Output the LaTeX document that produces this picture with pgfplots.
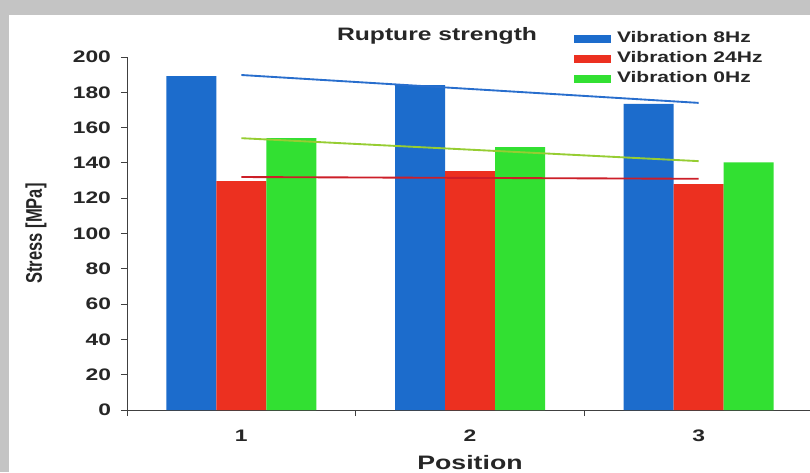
\documentclass[border=0pt]{standalone}
\usepackage{fontspec}
\setmainfont{Liberation Sans}[FakeStretch=1.37]
\newfontfamily\ylfont{Liberation Sans}
\usepackage{pgfplots}
\pgfplotsset{compat=1.18}
\definecolor{cblue}{RGB}{28,108,204}
\definecolor{cred}{RGB}{236,48,32}
\definecolor{cgreen}{RGB}{50,224,50}
\definecolor{tblue}{RGB}{40,110,205}
\definecolor{tgreen}{RGB}{150,205,50}
\definecolor{tred}{RGB}{205,30,40}
\definecolor{bggray}{RGB}{196,196,196}
\begin{document}
\begin{tikzpicture}
\fill[bggray] (0,0) rectangle (607.5pt,354pt);
\fill[white] (6.75pt,0) rectangle (607.5pt,342.75pt);
\useasboundingbox (0,0) rectangle (607.5pt,354pt);
\begin{axis}[
  at={(95.25pt,46.5pt)}, anchor=south west,
  scale only axis, width=514.5pt, height=264.75pt,
  xmin=0.5, xmax=3.5, ymin=0, ymax=200,
  axis lines=left,
  axis line style={-, draw=black!75, line width=0.7pt},
  tick align=outside,
  ytick={0,20,...,200},
  xtick={1,2,3},
  minor xtick={0.5,1.5,2.5,3.5},
  major tick length=4.5pt, minor tick length=4.5pt,
  tick style={draw=black!75, line width=0.7pt},
  major x tick style={draw=none},
  /pgf/number format/assume math mode=true,
  ticklabel style={font=\fontsize{12.5}{14}\selectfont\bfseries, text=black!85},
  yticklabel style={xshift=-4pt},
  xticklabel style={yshift=-7pt},
  xlabel={Position},
  xlabel style={font=\fontsize{14.6}{16}\selectfont\bfseries, text=black!85, yshift=-3.5pt},
  ylabel={\scalebox{1}[1.37]{\ylfont\bfseries\fontsize{12.4}{14}\selectfont Stress [MPa]}},
  ylabel style={at={(axis description cs:-0.1327,0.5)}, anchor=center, text=black!85},
  title={Rupture strength},
  title style={at={(axis description cs:0.452,1.037)}, anchor=center, font=\fontsize{13.5}{15}\selectfont\bfseries, text=black!85},
  legend style={at={(axis description cs:0.6516,1.0794)}, anchor=north west, draw=none, fill=none,
    inner sep=0pt, outer sep=0pt, font=\fontsize{11.5}{13}\selectfont\bfseries, row sep=0pt,
    nodes={inner sep=0pt, text height=10.5pt, text depth=4.5pt, anchor=west, text=black!85}},
  legend cell align=left,
  legend image code/.code={\fill[#1] (0pt,-3pt) rectangle (27.75pt,3pt); \path (32.25pt,0pt);},
  clip=false,
]
\addplot[ybar, bar width=37.5pt, bar shift=-37.5pt, fill=cblue, draw=none] coordinates {(1,189.2) (2,184) (3,173.4)};
\addlegendentry{Vibration 8Hz}
\addplot[ybar, bar width=37.5pt, bar shift=0pt, fill=cred, draw=none] coordinates {(1,129.7) (2,135.4) (3,128)};
\addlegendentry{Vibration 24Hz}
\addplot[ybar, bar width=37.5pt, bar shift=37.5pt, fill=cgreen, draw=none] coordinates {(1,154.1) (2,149) (3,140.3)};
\addlegendentry{Vibration 0Hz}
\addplot[tblue, line width=1.4pt, forget plot] coordinates {(1,189.8) (3,174)};
\addplot[tgreen, line width=1.4pt, forget plot] coordinates {(1,154) (3,141)};
\addplot[tred, line width=1.4pt, forget plot] coordinates {(1,132) (3,131)};
\end{axis}
\end{tikzpicture}
\end{document}
